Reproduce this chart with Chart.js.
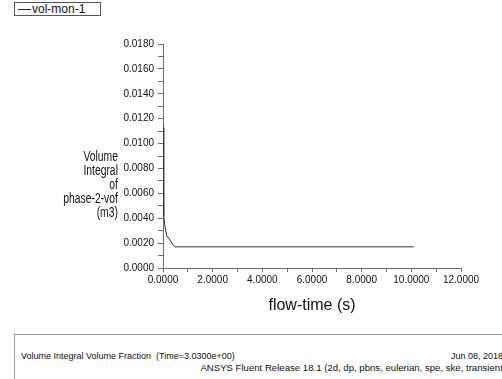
<!DOCTYPE html>
<html>
<head>
<meta charset="utf-8">
<script src="https://cdn.jsdelivr.net/npm/chart.js@4/dist/chart.umd.min.js"></script>
<style>
  html, body { margin: 0; padding: 0; background: #fff; }
  #wrap { position: relative; width: 502px; height: 379px; overflow: hidden; font-family: "Liberation Sans", Arial, sans-serif; }
  #plot { position: absolute; left: 0; top: 0; }
  #legend { position: absolute; left: 14px; top: 2px; width: 85px; height: 12px; border: 1px solid #555; font-size: 12px; line-height: 12px; color: #111; background: #fff; overflow: hidden; }
  #legend .swatch { position: absolute; left: 3px; top: 6px; width: 13px; border-top: 1px solid #222; }
  #legend .label { position: absolute; left: 17px; top: 0; }
  #ytitle { position: absolute; right: 384px; top: 149px; text-align: right; font-size: 14px; line-height: 14px; color: #111; transform: scaleX(0.74); transform-origin: right center; white-space: nowrap; }
  #footer { position: absolute; left: 14px; top: 334px; width: 520px; height: 60px; border: 1px solid #999; background: #fff; color: #111; }
  #footer span { position: absolute; white-space: nowrap; }
  #footer .l1 { left: 6px; top: 16px; font-size: 9px; }
  #footer .r1 { right: 32px; top: 16px; font-size: 9px; }
  #footer .r2 { right: 29px; top: 27px; font-size: 9.6px; }
</style>
</head>
<body>
<div id="wrap">
  <canvas id="plot" width="502" height="379"></canvas>
  <div id="legend"><span class="swatch"></span><span class="label">vol-mon-1</span></div>
  <div id="ytitle">Volume<br>Integral<br>of<br>phase-2-vof<br>(m3)</div>
  <div id="footer">
    <span class="l1">Volume Integral Volume Fraction&nbsp; (Time=3.0300e+00)</span>
    <span class="r1">Jun 08, 2018</span>
    <span class="r2">ANSYS Fluent Release 18.1 (2d, dp, pbns, eulerian, spe, ske, transient)</span>
  </div>
</div>
<script>
// vol-mon-1 monitor: flow time (s) vs volume integral of phase-2 vof (m3)
const seriesName = "vol-mon-1";
const flowTime = [0, 0.02, 0.04, 0.08, 0.15, 0.28, 0.41, 0.48, 10.1];
const volumeIntegral = [0.0113, 0.0064, 0.0042, 0.0033, 0.0026, 0.00225, 0.00185, 0.0017, 0.0017];
const xTickValues = [0, 2, 4, 6, 8, 10, 12];
const yTickValues = [0, 0.002, 0.004, 0.006, 0.008, 0.010, 0.012, 0.014, 0.016, 0.018];

const points = flowTime.map((t, i) => ({ x: t, y: volumeIntegral[i] }));
const axisGray = "#6f6f6f";
const tickFont = { family: "Liberation Sans, Arial, sans-serif", size: 10 };

new Chart(document.getElementById("plot"), {
  type: "line",
  data: {
    datasets: [{
      label: seriesName,
      data: points,
      borderColor: "#333",
      borderWidth: 1,
      pointRadius: 0,
      tension: 0,
      fill: false
    }]
  },
  options: {
    responsive: false,
    animation: false,
    events: [],
    layout: { padding: { left: 0, right: 41, top: 44, bottom: 63 } },
    plugins: { legend: { display: false }, tooltip: { enabled: false } },
    scales: {
      x: {
        type: "linear",
        min: xTickValues[0],
        max: xTickValues[xTickValues.length - 1],
        // major ticks every 2 s, unlabeled minor ticks in between
        afterBuildTicks: (scale) => {
          const ticks = [];
          for (let v = xTickValues[0]; v <= xTickValues[xTickValues.length - 1]; v += 1) ticks.push({ value: v });
          scale.ticks = ticks;
        },
        afterFit: (scale) => { scale.height = 48; },
        ticks: {
          autoSkip: false,
          maxRotation: 0,
          color: "#111",
          font: tickFont,
          padding: 2,
          callback: (v) => xTickValues.includes(v) ? v.toFixed(4) : ""
        },
        grid: { drawOnChartArea: false, drawTicks: true, tickLength: 4, color: axisGray },
        border: { display: true, color: axisGray },
        title: {
          display: true,
          text: "flow-time (s)",
          color: "#111",
          font: { family: "Liberation Sans, Arial, sans-serif", size: 16 },
          padding: { top: 0, bottom: 1 }
        }
      },
      y: {
        type: "linear",
        min: yTickValues[0],
        max: yTickValues[yTickValues.length - 1],
        // major ticks every 0.002, unlabeled minor ticks in between
        afterBuildTicks: (scale) => {
          const ticks = [];
          for (let i = 0; i <= 18; i++) ticks.push({ value: i / 1000 });
          scale.ticks = ticks;
        },
        afterFit: (scale) => { scale.width = 163; },
        ticks: {
          autoSkip: false,
          color: "#111",
          font: tickFont,
          padding: 4,
          callback: (v, i) => i % 2 === 0 ? yTickValues[i / 2].toFixed(4) : ""
        },
        grid: { drawOnChartArea: false, drawTicks: true, tickLength: 5, color: axisGray },
        border: { display: true, color: axisGray }
      }
    }
  }
});
</script>
</body>
</html>
